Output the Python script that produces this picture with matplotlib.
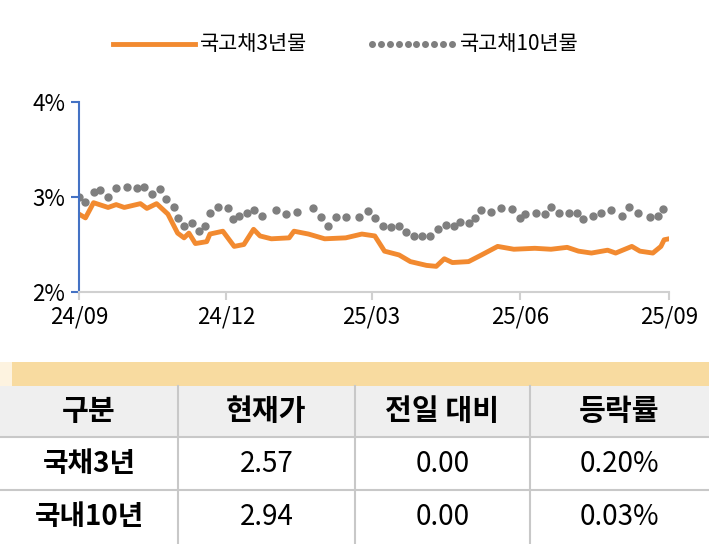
import matplotlib
matplotlib.use("Agg")
import matplotlib.pyplot as plt
from matplotlib.patches import Rectangle
from matplotlib.lines import Line2D
import numpy as np
import datetime as dt

plt.rcParams["font.family"] = "Noto Sans CJK KR"

start = dt.date(2024, 9, 1)
days3 = [0,4,9,18,23,28,38,42,48,55,61,65,68,72,79,81,89,96,102,108,112,119,130,133,142,152,165,175,183,189,198,205,215,221,226,231,241,249,259,269,282,292,302,309,317,327,332,342,347,355,360,362,365]
vals3 = [2.82,2.78,2.94,2.89,2.92,2.89,2.93,2.88,2.93,2.82,2.62,2.57,2.62,2.51,2.53,2.61,2.64,2.48,2.50,2.66,2.59,2.56,2.57,2.64,2.61,2.56,2.57,2.61,2.59,2.43,2.39,2.32,2.28,2.27,2.35,2.31,2.32,2.39,2.48,2.45,2.46,2.45,2.47,2.43,2.41,2.44,2.41,2.48,2.43,2.41,2.48,2.55,2.56]
days10 = [0,4,9,13,18,23,30,36,40,45,50,54,59,61,65,70,74,78,81,86,92,95,99,104,108,113,122,128,135,145,150,154,159,165,173,179,183,188,193,198,202,207,212,217,222,227,232,236,241,245,249,255,261,268,273,276,283,288,292,297,303,308,312,318,323,329,336,340,346,353,358,361]
vals10 = [3.00,2.95,3.05,3.07,3.00,3.09,3.11,3.09,3.11,3.03,3.08,2.98,2.90,2.78,2.70,2.73,2.64,2.69,2.83,2.89,2.88,2.77,2.80,2.83,2.86,2.80,2.86,2.82,2.84,2.88,2.79,2.70,2.79,2.79,2.79,2.85,2.78,2.70,2.68,2.69,2.63,2.59,2.59,2.59,2.66,2.71,2.69,2.74,2.73,2.78,2.86,2.84,2.88,2.87,2.78,2.82,2.83,2.82,2.90,2.83,2.83,2.83,2.77,2.80,2.83,2.86,2.80,2.90,2.83,2.79,2.80,2.87]
tick_labels = ["24/09", "24/12", "25/03", "25/06", "25/09"]
tick_dates = [dt.date(2024,9,1), dt.date(2024,12,1), dt.date(2025,3,1), dt.date(2025,6,1), dt.date(2025,9,1)]
headers = ["구분", "현재가", "전일 대비", "등락률"]
rows = [["국채3년", "2.57", "0.00", "0.20%"], ["국내10년", "2.94", "0.00", "0.03%"]]

W, H = 709, 544
fig = plt.figure(figsize=(W/100, H/100), dpi=100)
ax = fig.add_axes([79/W, 1-292/H, 590/W, 190/H])
d3 = [start + dt.timedelta(days=d) for d in days3]
d10 = [start + dt.timedelta(days=d) for d in days10]
ax.plot(d10, vals10, linestyle="none", marker="o", ms=5, color="#7f7f7f")
ax.plot(d3, vals3, color="#F28A30", lw=3.5, solid_joinstyle="round")
ax.set_ylim(2, 4)
ax.set_yticks([2, 3, 4])
ax.set_yticklabels(["2%", "3%", "4%"])
ax.set_xlim(tick_dates[0], tick_dates[-1])
ax.set_xticks(tick_dates)
ax.set_xticklabels(tick_labels)
for s in ["top", "right"]:
    ax.spines[s].set_visible(False)
ax.spines["left"].set_color("#4472C4")
ax.spines["left"].set_linewidth(1.5)
ax.spines["bottom"].set_color("#d0d0d0")
ax.spines["bottom"].set_linewidth(1.5)
ax.tick_params(axis="y", colors="#4472C4", length=6, width=1.5, labelsize=16, labelcolor="black", pad=4)
ax.tick_params(axis="x", colors="#d0d0d0", length=6, width=1.5, labelsize=16, labelcolor="black", pad=4)

# legend
fig.add_artist(Line2D([113/W, 195/W], [1-44/H, 1-44/H], color="#F28A30", lw=3.5))
fig.text(200/W, 1-44/H, "국고채3년물", fontsize=15, va="center")
for x in np.linspace(372, 452, 10):
    fig.add_artist(Line2D([x/W], [1-44/H], color="#7f7f7f", marker="o", ms=4, lw=0))
fig.text(460/W, 1-44/H, "국고채10년물", fontsize=15, va="center")

# table
def rect(x0, y0, x1, y1, color):
    fig.add_artist(Rectangle((x0/W, 1-y1/H), (x1-x0)/W, (y1-y0)/H, color=color, lw=0))
rect(0, 362, 709, 386, "#FDF3E0")
rect(12, 362, 709, 386, "#F8DBA0")
rect(0, 386, 709, 437, "#EFEFEF")
cols = [0, 178, 355, 530, 709]
rowy = [386, 437, 490, 544]
for x in cols[1:-1]:
    fig.add_artist(Line2D([x/W, x/W], [1-386/H, 0], color="#c8c8c8", lw=1.5))
for y in rowy[1:-1]:
    fig.add_artist(Line2D([0, 1], [1-y/H, 1-y/H], color="#c8c8c8", lw=1.5))
for i, h in enumerate(headers):
    fig.text((cols[i]+cols[i+1])/2/W, 1-411/H, h, fontsize=21, fontweight="bold", ha="center", va="center")
for r, row in enumerate(rows):
    yc = (rowy[r+1]+rowy[r+2])/2
    for i, v in enumerate(row):
        fig.text((cols[i]+cols[i+1])/2/W, 1-yc/H, v, fontsize=20, ha="center", va="center",
                 fontweight="bold" if i == 0 else "normal")

fig.savefig("out.png", dpi=100)
